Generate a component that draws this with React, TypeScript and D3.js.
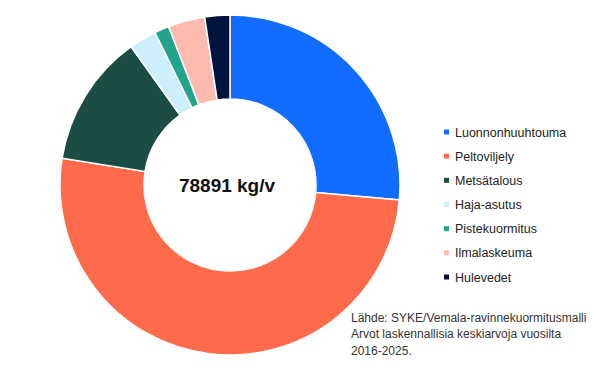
import React from "react";
import * as d3 from "d3";

// nitrogen load by source, kg/v
const categories = [
  "Luonnonhuuhtouma",
  "Peltoviljely",
  "Metsätalous",
  "Haja-asutus",
  "Pistekuormitus",
  "Ilmalaskeuma",
  "Hulevedet",
];
const values = [20830, 40330, 9940, 2050, 1100, 2760, 1881];
const colors = ["#116dff", "#ff6b4a", "#1b4d44", "#cdeffc", "#22a38c", "#ffbab0", "#00133f"];
const totalLabel = "78891 kg/v";
const sourceLines = [
  "Lähde: SYKE/Vemala-ravinnekuormitusmalli",
  "Arvot laskennallisia keskiarvoja vuosilta",
  "2016-2025.",
];

const width = 600;
const height = 373;
const cx = 230;
const cy = 185;
const outerR = 170;
const innerR = 86;

export default function App() {
  const pie = d3.pie<number>().sort(null).value((d) => d);
  const arcs = pie(values);
  const arc = d3.arc<d3.PieArcDatum<number>>().innerRadius(innerR).outerRadius(outerR);

  const legendY = d3.scalePoint<string>().domain(categories).range([132, 277]);

  return (
    <svg
      width={width}
      height={height}
      style={{ position: "absolute", left: 0, top: 0, fontFamily: "'Liberation Sans', Arial, sans-serif" }}
    >
      <rect width={width} height={height} fill="#fff" />
      <g transform={`translate(${cx},${cy})`}>
        {arcs.map((a, i) => (
          <path key={i} d={arc(a) || ""} fill={colors[i]} stroke="#fff" strokeWidth={1.5} />
        ))}
        <text x={-3} y={7} textAnchor="middle" fontSize={19} fontWeight="bold" fill="#111">
          {totalLabel}
        </text>
      </g>
      <g>
        {categories.map((c, i) => (
          <g key={c} transform={`translate(0,${legendY(c)})`}>
            <rect x={444} y={-2.5} width={5} height={5} fill={colors[i]} />
            <text x={455} y={4.5} fontSize={12.5} fill="#222">
              {c}
            </text>
          </g>
        ))}
      </g>
      <g>
        {sourceLines.map((l, i) => (
          <text key={i} x={351} y={322 + i * 16.3} fontSize={12} fill="#333">
            {l}
          </text>
        ))}
      </g>
    </svg>
  );
}
